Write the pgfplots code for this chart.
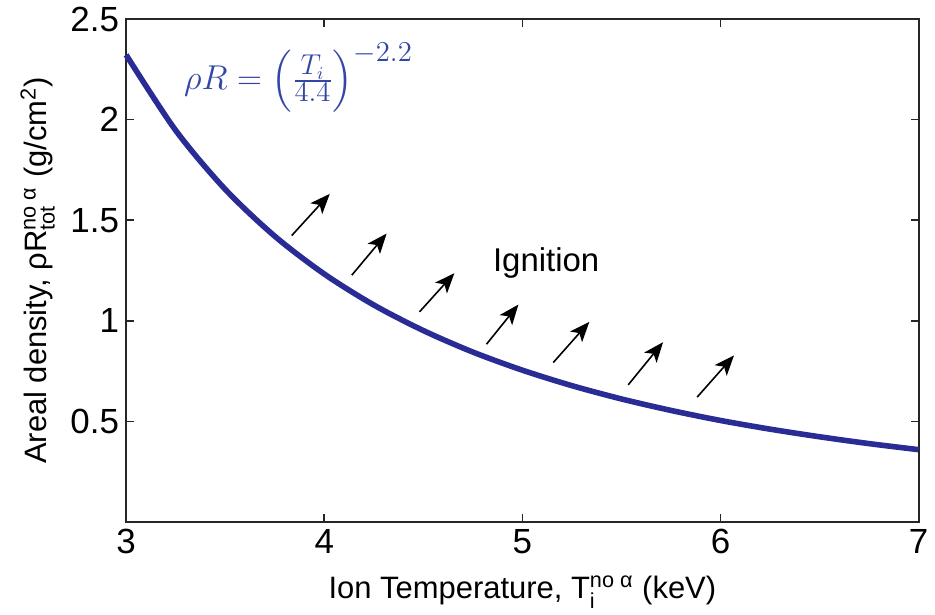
\documentclass[border=0pt]{standalone}
\usepackage{amsmath}
\usepackage{fontspec}
\setmainfont{Liberation Sans}
\usepackage{pgfplots}
\pgfplotsset{compat=1.18}
\usetikzlibrary{arrows.meta}
\definecolor{curveblue}{RGB}{42,44,150}
\definecolor{formblue}{RGB}{50,70,165}
\newcommand\supsub[2]{\ensuremath{^{\text{#1}}_{\text{#2}}}}
\begin{document}
\begin{tikzpicture}
\begin{axis}[
  scale only axis,
  width=397pt, height=252pt,
  xmin=3, xmax=7, ymin=0, ymax=2.5,
  xtick={3,4,5,6,7},
  ytick={0.5,1,1.5,2,2.5},
  yticklabels={0.5,1,1.5,2,2.5},
  tick align=inside,
  major tick length=4pt,
  axis line style={line width=0.9pt, black!85},
  every tick/.style={line width=0.8pt, black!85},
  /pgf/number format/assume math mode=true,
  tick label style={font=\fontsize{17.5}{21}\selectfont},
  label style={font=\fontsize{15.5}{18}\selectfont},
  xlabel={Ion Temperature, T\supsub{no α}{i} (keV)},
  ylabel={Areal density, ρR\supsub{no α}{tot} (g/cm\textsuperscript{2})},
  xlabel style={yshift=-4pt},
  ylabel style={yshift=1pt},
  clip=false,
]
\addplot[curveblue, line width=2.8pt, smooth] coordinates {
(3.00,2.322)(3.25,1.947)(3.50,1.654)(3.75,1.421)(4.00,1.233)
(4.25,1.079)(4.50,0.952)(4.75,0.845)(5.00,0.755)(5.25,0.678)
(5.50,0.612)(5.75,0.555)(6.00,0.505)(6.25,0.462)(6.50,0.424)
(6.75,0.390)(7.00,0.360)};
\pgfplotsset{arr/.style={black, line width=0.8pt, -{Stealth[length=10pt,width=8pt,inset=2.5pt]}}}
\addplot[arr] coordinates {(3.836,1.424)(4.028,1.631)};
\addplot[arr] coordinates {(4.139,1.227)(4.315,1.434)};
\addplot[arr] coordinates {(4.481,1.045)(4.657,1.237)};
\addplot[arr] coordinates {(4.819,0.884)(4.980,1.081)};
\addplot[arr] coordinates {(5.156,0.793)(5.338,0.995)};
\addplot[arr] coordinates {(5.534,0.682)(5.710,0.894)};
\addplot[arr] coordinates {(5.882,0.621)(6.068,0.828)};
\node[font=\fontsize{16.5}{19}\selectfont] at (axis cs:5.12,1.29) {Ignition};
\node[text=formblue, font=\fontsize{19}{22}\selectfont] at (axis cs:3.87,2.21) {$\rho R = \left(\frac{T_i}{4.4}\right)^{-2.2}$};
\end{axis}
\path ([xshift=-7pt]current bounding box.west);
\end{tikzpicture}
\end{document}
